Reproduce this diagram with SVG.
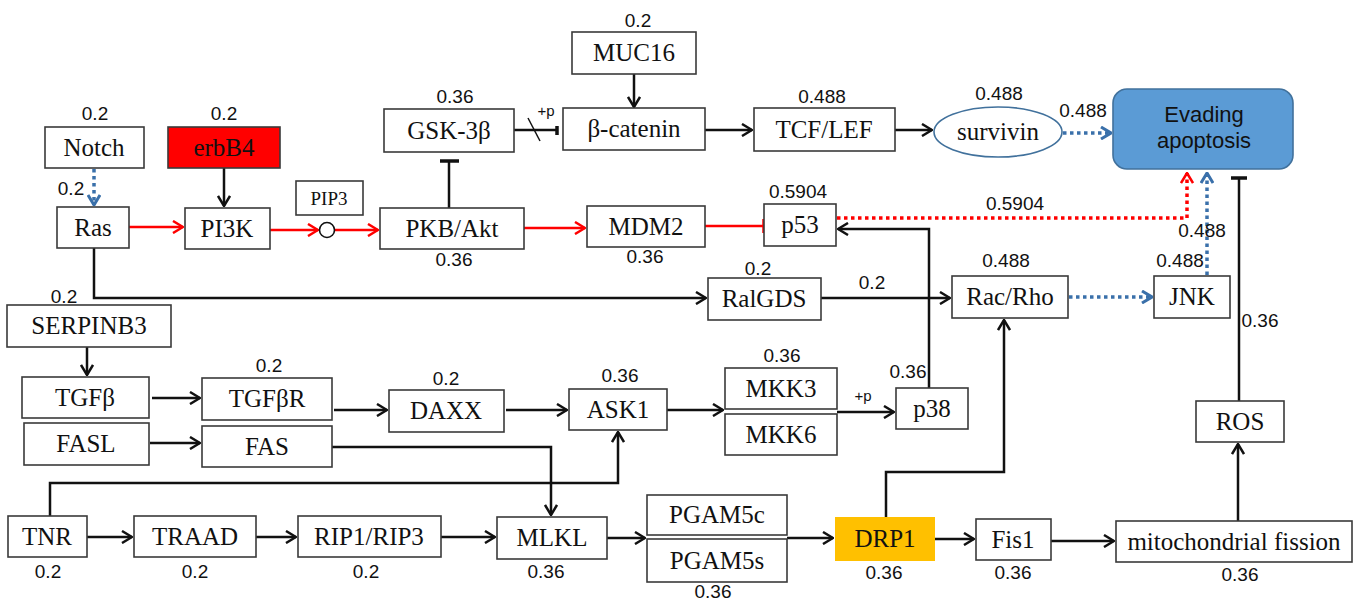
<svg xmlns="http://www.w3.org/2000/svg" width="1354" height="601" viewBox="0 0 1354 601">
<defs>
<style>
.box{fill:#fff;stroke:#3a3a3a;stroke-width:1.6}
.lbl{font-family:"Liberation Serif","Times New Roman",serif;font-size:25px;fill:#111;text-anchor:middle}
.num{font-family:"Liberation Sans",Arial,sans-serif;font-size:19px;fill:#111;text-anchor:middle}
.sm{font-family:"Liberation Sans",Arial,sans-serif;font-size:15px;fill:#111;text-anchor:middle}
.ln{fill:none;stroke:#111;stroke-width:2.5}
.rd{fill:none;stroke:#f00;stroke-width:2.5}
.rdot{fill:none;stroke:#f00;stroke-width:3.5;stroke-dasharray:3.5 3.5}
.bdot{fill:none;stroke:#3a70aa;stroke-width:3.5;stroke-dasharray:3.5 3.5}
</style>
<marker id="ab" viewBox="0 0 12 14" refX="11" refY="7" markerWidth="12" markerHeight="14" markerUnits="userSpaceOnUse" orient="auto"><path d="M1,1 L11,7 L1,13" fill="none" stroke="#111" stroke-width="2.5"/></marker>
<marker id="ar" viewBox="0 0 12 14" refX="11" refY="7" markerWidth="12" markerHeight="14" markerUnits="userSpaceOnUse" orient="auto"><path d="M1,1 L11,7 L1,13" fill="none" stroke="#f00" stroke-width="2.5"/></marker>
<marker id="abl" viewBox="0 0 12 14" refX="11" refY="7" markerWidth="12" markerHeight="14" markerUnits="userSpaceOnUse" orient="auto"><path d="M1,1 L11,7 L1,13" fill="none" stroke="#3a70aa" stroke-width="3"/></marker>
</defs>
<rect width="1354" height="601" fill="#fff"/>

<g id="connectors">
<path class="bdot" d="M94,169 V205" marker-end="url(#abl)"/>
<path class="ln" d="M224,168 V206" marker-end="url(#ab)"/>
<path class="rd" d="M129,227 H183" marker-end="url(#ar)"/>
<path class="rd" d="M270,230 H318" marker-end="url(#ar)"/>
<path class="rd" d="M335,230 H378" marker-end="url(#ar)"/>
<path class="rd" d="M705,226 H763"/>
<path class="rd" d="M524,228 H585" marker-end="url(#ar)"/>
<path d="M764,219 V233" stroke="#f00" stroke-width="3.5"/>
<path class="ln" d="M449,208 V161" stroke-width="3"/>
<path d="M440,161 H459" stroke="#111" stroke-width="3.5"/>
<path class="ln" d="M514,130 H557" stroke-width="3"/>
<path d="M557,126 V135" stroke="#111" stroke-width="3.5"/>
<path d="M528,118 L540,141" stroke="#111" stroke-width="1.5"/>
<path class="ln" d="M634,74 V107" marker-end="url(#ab)"/>
<path class="ln" d="M705,130 H752" marker-end="url(#ab)"/>
<path class="ln" d="M895,130 H932" marker-end="url(#ab)"/>
<path class="bdot" d="M1063,133 H1111" marker-end="url(#abl)"/>
<path class="rdot" d="M837,218 H1187 V173" marker-end="url(#ar)"/>
<path class="bdot" d="M1207,275 V173" marker-end="url(#abl)"/>
<path class="ln" d="M1239,401 V178"/>
<path d="M1231,178 H1247" stroke="#111" stroke-width="3.5"/>
<path class="ln" d="M94,248 V298 H706" marker-end="url(#ab)"/>
<path class="ln" d="M929,388 V229 H838" marker-end="url(#ab)"/>
<path class="ln" d="M821,298 H950" marker-end="url(#ab)"/>
<path class="bdot" d="M1069,297 H1152" marker-end="url(#abl)"/>
<path class="ln" d="M886,517 V472 H1004 V320" marker-end="url(#ab)"/>
<path class="ln" d="M1238,521 V444" marker-end="url(#ab)"/>
<path class="ln" d="M1051,541 H1114" marker-end="url(#ab)"/>
<path class="ln" d="M935,539 H974" marker-end="url(#ab)"/>
<path class="ln" d="M787,538 H833" marker-end="url(#ab)"/>
<path class="ln" d="M607,538 H645" marker-end="url(#ab)"/>
<path class="ln" d="M441,537 H495" marker-end="url(#ab)"/>
<path class="ln" d="M256,537 H296" marker-end="url(#ab)"/>
<path class="ln" d="M87,537 H132" marker-end="url(#ab)"/>
<path class="ln" d="M50,516 V483 H618 V432" marker-end="url(#ab)"/>
<path class="ln" d="M332,447 H551 V515" marker-end="url(#ab)"/>
<path class="ln" d="M150,443 H200" marker-end="url(#ab)"/>
<path class="ln" d="M152,398 H200" marker-end="url(#ab)"/>
<path class="ln" d="M334,410 H387" marker-end="url(#ab)"/>
<path class="ln" d="M506,410 H567" marker-end="url(#ab)"/>
<path class="ln" d="M667,410 H723" marker-end="url(#ab)"/>
<path class="ln" d="M837,412 H894" marker-end="url(#ab)"/>
<path class="ln" d="M87,347 V375" marker-end="url(#ab)"/>
<text class="sm" x="546" y="116">+p</text>
<text class="sm" x="863" y="401">+p</text>
</g>

<g id="n-muc16"><rect class="box" x="572" y="32" width="124" height="42"/><text class="lbl" x="634" y="61">MUC16</text><text class="num" x="638" y="27">0.2</text></g>
<g id="n-gsk"><rect class="box" x="384" y="109" width="130" height="43"/><text class="lbl" x="449" y="139">GSK-3β</text><text class="num" x="455" y="103">0.36</text></g>
<g id="n-bcat"><rect class="box" x="563" y="108" width="142" height="42"/><text class="lbl" x="634" y="137">β-catenin</text></g>
<g id="n-tcf"><rect class="box" x="754" y="108" width="141" height="43"/><text class="lbl" x="824" y="138">TCF/LEF</text><text class="num" x="822" y="103">0.488</text></g>
<g id="n-survivin"><ellipse cx="998" cy="132" rx="64" ry="25" fill="#fff" stroke="#41719c" stroke-width="1.6"/><text class="lbl" x="998" y="140">survivin</text><text class="num" x="999" y="100">0.488</text><text class="num" x="1083" y="117">0.488</text></g>
<g id="n-evading"><rect x="1113" y="89" width="180" height="80" rx="14" fill="#5b9bd5" stroke="#41719c" stroke-width="1.6"/><text x="1204" y="122" font-family="Liberation Sans,Arial,sans-serif" font-size="22" fill="#111" text-anchor="middle">Evading</text><text x="1204" y="148" font-family="Liberation Sans,Arial,sans-serif" font-size="22" fill="#111" text-anchor="middle">apoptosis</text></g>
<g id="n-notch"><rect class="box" x="45" y="127" width="99" height="41"/><text class="lbl" x="94" y="156">Notch</text><text class="num" x="95" y="120">0.2</text></g>
<g id="n-erbb4"><rect x="168" y="127" width="112" height="41" fill="#f00" stroke="#3a3a3a" stroke-width="1.6"/><text class="lbl" x="224" y="156">erbB4</text><text class="num" x="224" y="120">0.2</text></g>
<g id="n-ras"><rect class="box" x="57" y="207" width="72" height="41"/><text class="lbl" x="93" y="236">Ras</text><text class="num" x="71" y="195">0.2</text></g>
<g id="n-pi3k"><rect class="box" x="185" y="208" width="85" height="41"/><text class="lbl" x="227" y="237">PI3K</text></g>
<g id="n-pip3"><rect class="box" x="296" y="181" width="67" height="34"/><text x="329" y="205" font-family="Liberation Serif,Times New Roman,serif" font-size="19" fill="#111" text-anchor="middle">PIP3</text><circle cx="327" cy="230" r="7.5" fill="#fff" stroke="#111" stroke-width="1.6"/></g>
<g id="n-pkb"><rect class="box" x="380" y="208" width="144" height="41"/><text class="lbl" x="452" y="237">PKB/Akt</text><text class="num" x="454" y="266">0.36</text></g>
<g id="n-mdm2"><rect class="box" x="587" y="206" width="118" height="41"/><text class="lbl" x="646" y="235">MDM2</text><text class="num" x="645" y="263">0.36</text></g>
<g id="n-p53"><rect class="box" x="764" y="204" width="72" height="42"/><text class="lbl" x="800" y="233">p53</text><text class="num" x="798" y="198">0.5904</text><text class="num" x="1015" y="210">0.5904</text></g>
<g id="n-ralgds"><rect class="box" x="708" y="278" width="113" height="42"/><text class="lbl" x="764" y="307">RalGDS</text><text class="num" x="758" y="275">0.2</text><text class="num" x="872" y="289">0.2</text></g>
<g id="n-racrho"><rect class="box" x="952" y="276" width="116" height="42"/><text class="lbl" x="1010" y="305">Rac/Rho</text><text class="num" x="1006" y="267">0.488</text></g>
<g id="n-jnk"><rect class="box" x="1154" y="276" width="76" height="42"/><text class="lbl" x="1192" y="305">JNK</text><text class="num" x="1180" y="267">0.488</text><text class="num" x="1202" y="237">0.488</text></g>
<g id="n-serpinb3"><rect class="box" x="7" y="305" width="164" height="42"/><text class="lbl" x="89" y="334">SERPINB3</text><text class="num" x="64" y="303">0.2</text></g>
<g id="n-tgfb"><rect class="box" x="22" y="377" width="127" height="41"/><text class="lbl" x="85" y="406">TGFβ</text></g>
<g id="n-tgfbr"><rect class="box" x="202" y="378" width="130" height="42"/><text class="lbl" x="267" y="407">TGFβR</text><text class="num" x="269" y="372">0.2</text></g>
<g id="n-daxx"><rect class="box" x="389" y="390" width="115" height="42"/><text class="lbl" x="446" y="419">DAXX</text><text class="num" x="446" y="385">0.2</text></g>
<g id="n-ask1"><rect class="box" x="569" y="389" width="98" height="41"/><text class="lbl" x="618" y="418">ASK1</text><text class="num" x="620" y="382">0.36</text></g>
<g id="n-mkk3"><rect class="box" x="725" y="368" width="112" height="41"/><text class="lbl" x="781" y="397">MKK3</text><text class="num" x="782" y="362">0.36</text></g>
<g id="n-mkk6"><rect class="box" x="725" y="414" width="112" height="41"/><text class="lbl" x="781" y="443">MKK6</text></g>
<g id="n-p38"><rect class="box" x="896" y="388" width="72" height="41"/><text class="lbl" x="932" y="417">p38</text><text class="num" x="908" y="378">0.36</text></g>
<g id="n-ros"><rect class="box" x="1196" y="401" width="88" height="41"/><text class="lbl" x="1240" y="430">ROS</text><text class="num" x="1260" y="327">0.36</text></g>
<g id="n-fasl"><rect class="box" x="24" y="423" width="125" height="42"/><text class="lbl" x="86" y="452">FASL</text></g>
<g id="n-fas"><rect class="box" x="202" y="426" width="130" height="41"/><text class="lbl" x="267" y="455">FAS</text></g>
<g id="n-tnr"><rect class="box" x="8" y="516" width="79" height="41"/><text class="lbl" x="47" y="545">TNR</text><text class="num" x="48" y="578">0.2</text></g>
<g id="n-traad"><rect class="box" x="134" y="516" width="122" height="41"/><text class="lbl" x="195" y="545">TRAAD</text><text class="num" x="195" y="578">0.2</text></g>
<g id="n-rip"><rect class="box" x="298" y="516" width="143" height="41"/><text class="lbl" x="369" y="545">RIP1/RIP3</text><text class="num" x="366" y="578">0.2</text></g>
<g id="n-mlkl"><rect class="box" x="497" y="517" width="110" height="42"/><text class="lbl" x="552" y="546">MLKL</text><text class="num" x="546" y="578">0.36</text></g>
<g id="n-pgam5c"><rect class="box" x="647" y="495" width="140" height="40"/><text class="lbl" x="717" y="523">PGAM5c</text></g>
<g id="n-pgam5s"><rect class="box" x="647" y="539" width="140" height="43"/><text class="lbl" x="717" y="569">PGAM5s</text><text class="num" x="713" y="598">0.36</text></g>
<g id="n-drp1"><rect x="835" y="517" width="100" height="44" fill="#ffc000"/><text class="lbl" x="885" y="547">DRP1</text><text class="num" x="884" y="579">0.36</text></g>
<g id="n-fis1"><rect class="box" x="976" y="519" width="75" height="41"/><text class="lbl" x="1013" y="548">Fis1</text><text class="num" x="1013" y="579">0.36</text></g>
<g id="n-mito"><rect class="box" x="1116" y="521" width="236" height="41"/><text class="lbl" x="1234" y="550">mitochondrial fission</text><text class="num" x="1240" y="581">0.36</text></g>
</svg>
